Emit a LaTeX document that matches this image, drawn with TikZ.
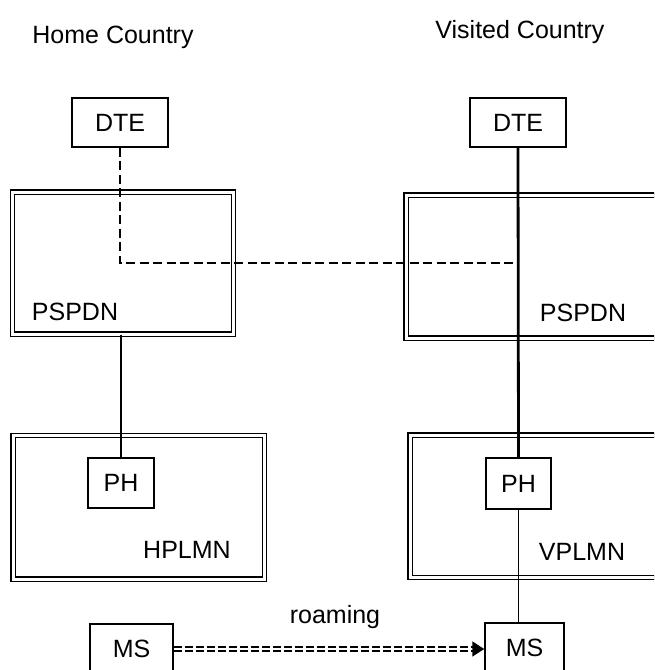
\documentclass[tikz,border=0pt]{standalone}
\usepackage{fontspec}
\setmainfont{Liberation Sans}
\usetikzlibrary{arrows.meta}

\begin{document}
\begin{tikzpicture}[x=1pt,y=-1pt]
\tikzstyle{every node}=[font=\fontsize{25}{30}\selectfont]
\tikzstyle{unit}=[draw,line width=1.5pt,inner sep=0pt]
\tikzstyle{net}=[draw,double,double distance=3pt,line width=1.4pt,inner sep=0pt]
\tikzstyle{link}=[line width=2.8pt]
\tikzstyle{tunnel}=[line width=2.8pt,dash pattern=on 9pt off 4.5pt]
\tikzstyle{roam}=[double,double distance=2.8pt,line width=1.8pt,dash pattern=on 8pt off 3pt,-{Triangle[length=12pt,width=15pt]}]

\clip (0,0) rectangle (654,670);

\node (home) at (113,37) {Home Country};
\node (visited) at (520,32) {Visited Country};

\node[net,minimum width=221pt,minimum height=142pt] (pspdnh) at (123,263) {};
\node[net,minimum width=274pt,minimum height=143pt] (pspdnv) at (543,266.5) {};
\node[net,minimum width=251.5pt,minimum height=143.5pt] (plmnh) at (138.75,507.25) {};
\node[net,minimum width=270pt,minimum height=142.5pt] (plmnv) at (545,506.25) {};

\node (pspdnhlbl) at (75,312) {PSPDN};
\node (pspdnvlbl) at (583,313) {PSPDN};
\node (plmnhlbl) at (187,550) {HPLMN};
\node (plmnvlbl) at (582,552) {VPLMN};

\node[unit,minimum width=96pt,minimum height=49pt] (dteh) at (120,122.5) {DTE};
\node[unit,minimum width=96pt,minimum height=49pt] (dtev) at (518,122.5) {DTE};
\node[unit,minimum width=66pt,minimum height=50pt] (phh) at (121,483) {PH};
\node[unit,minimum width=65pt,minimum height=51pt] (phv) at (518.5,483.5) {PH};
\node[unit,minimum width=83pt,minimum height=50pt] (msh) at (131.5,649) {MS};
\node[unit,minimum width=79pt,minimum height=50pt] (msv) at (524.5,648) {MS};

\coordinate (join) at (518,263);

\draw[link] (dtev.south) -- (phv.north);
\draw[link] (phh.north) -- (phh.north |- pspdnh.south);
\draw[tunnel] (dteh.south) |- (join);
\draw[line width=0.9pt] (phv.south) -- (phv.south |- msv.north);
\draw[roam] (msh.east) -- (msh.east -| msv.west);
\node (roaming) at (335,617) {roaming};
\end{tikzpicture}
\end{document}
